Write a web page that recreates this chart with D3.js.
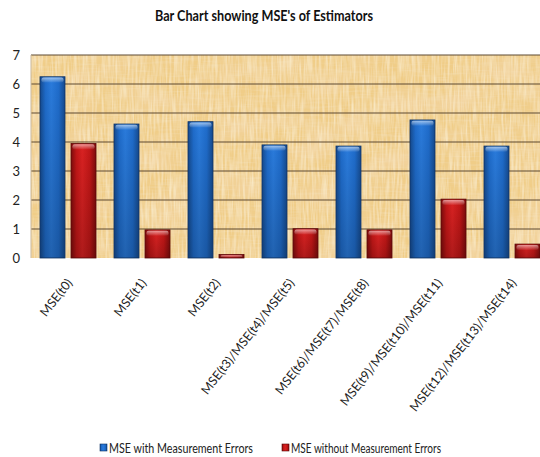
<!DOCTYPE html>
<html>
<head>
<meta charset="utf-8">
<script src="https://cdn.jsdelivr.net/npm/d3@7"></script>
<style>
  html, body { margin: 0; padding: 0; background: #fff; }
  svg { display: block; }
  text { font-family: Lato, "Open Sans", sans-serif; }
</style>
</head>
<body>
<svg id="chart" width="540" height="457"></svg>
<script>
// Estimator groups and their mean squared errors
const categories = [
  "MSE(t0)", "MSE(t1)", "MSE(t2)",
  "MSE(t3)/MSE(t4)/MSE(t5)", "MSE(t6)/MSE(t7)/MSE(t8)",
  "MSE(t9)/MSE(t10)/MSE(t11)", "MSE(t12)/MSE(t13)/MSE(t14)"
];
const seriesNames = ["MSE with Measurement Errors", "MSE without Measurement Errors"];
const withErrors    = [6.25, 4.62, 4.70, 3.90, 3.86, 4.76, 3.86];
const withoutErrors = [3.95, 0.97, 0.12, 1.01, 0.97, 2.03, 0.48];
const yTicks = [0, 1, 2, 3, 4, 5, 6, 7];
const titleText = "Bar Chart showing MSE's of Estimators";

const svg = d3.select("#chart");
const plot = { left: 31, right: 549, top: 55, bottom: 258 };

const x = d3.scaleBand().domain(categories).range([plot.left, plot.right]);
const xs = d3.scaleBand().domain(seriesNames).range([0, x.bandwidth()])
  .paddingInner(0.194).paddingOuter(0.29);
const y = d3.scaleLinear().domain([0, 7]).range([plot.bottom, plot.top]);

const defs = svg.append("defs");

// Parchment texture for the plot area: fine fibres plus soft blotches
const tex = defs.append("filter").attr("id", "parchment")
  .attr("x", 0).attr("y", 0).attr("width", 1).attr("height", 1);
tex.append("feTurbulence").attr("type", "fractalNoise")
  .attr("baseFrequency", "0.5 0.04").attr("numOctaves", 2).attr("seed", 3).attr("result", "vn");
tex.append("feColorMatrix").attr("in", "vn").attr("type", "matrix")
  .attr("values", "0 0 0 0 0.98  0 0 0 0 0.90  0 0 0 0 0.68  1.2 0 0 0 -0.45").attr("result", "vstreak");
tex.append("feTurbulence").attr("type", "fractalNoise")
  .attr("baseFrequency", "0.04 0.45").attr("numOctaves", 2).attr("seed", 7).attr("result", "hn");
tex.append("feColorMatrix").attr("in", "hn").attr("type", "matrix")
  .attr("values", "0 0 0 0 0.90  0 0 0 0 0.74  0 0 0 0 0.47  0.9 0 0 0 -0.42").attr("result", "hstreak");
tex.append("feTurbulence").attr("type", "fractalNoise")
  .attr("baseFrequency", "0.02 0.035").attr("numOctaves", 2).attr("seed", 11).attr("result", "blot");
tex.append("feColorMatrix").attr("in", "blot").attr("type", "matrix")
  .attr("values", "0 0 0 0 0.91  0 0 0 0 0.70  0 0 0 0 0.45  1.2 0 0 0 -0.52").attr("result", "blotc");
const merge = tex.append("feMerge");
merge.append("feMergeNode").attr("in", "SourceGraphic");
merge.append("feMergeNode").attr("in", "blotc");
merge.append("feMergeNode").attr("in", "hstreak");
merge.append("feMergeNode").attr("in", "vstreak");

// Bar shading: dark edges, bright core
function barGradient(id, edge, mid, light) {
  const g = defs.append("linearGradient").attr("id", id)
    .attr("x1", "0%").attr("x2", "100%").attr("y1", "0%").attr("y2", "0%");
  g.append("stop").attr("offset", "0%").attr("stop-color", edge);
  g.append("stop").attr("offset", "22%").attr("stop-color", mid);
  g.append("stop").attr("offset", "45%").attr("stop-color", light);
  g.append("stop").attr("offset", "75%").attr("stop-color", mid);
  g.append("stop").attr("offset", "100%").attr("stop-color", edge);
}
barGradient("blueBar", "#154a8e", "#1f6ccb", "#2a7bdc");
barGradient("redBar", "#7e0c0c", "#c21717", "#da2222");

const shade = defs.append("linearGradient").attr("id", "barShade")
  .attr("x1", "0%").attr("x2", "0%").attr("y1", "0%").attr("y2", "100%");
shade.append("stop").attr("offset", "0%").attr("stop-color", "#000").attr("stop-opacity", 0);
shade.append("stop").attr("offset", "100%").attr("stop-color", "#000").attr("stop-opacity", 0.2);

const capGrad = defs.append("linearGradient").attr("id", "cap")
  .attr("x1", "0%").attr("x2", "0%").attr("y1", "0%").attr("y2", "100%");
capGrad.append("stop").attr("offset", "0%").attr("stop-color", "#fff").attr("stop-opacity", 0.55);
capGrad.append("stop").attr("offset", "100%").attr("stop-color", "#fff").attr("stop-opacity", 0.05);

const clip = defs.append("clipPath").attr("id", "plotClip");
clip.append("rect").attr("x", plot.left).attr("y", plot.top - 1)
  .attr("width", plot.right - plot.left).attr("height", plot.bottom - plot.top + 2);

// Plot background
svg.append("rect")
  .attr("x", plot.left).attr("y", plot.top)
  .attr("width", plot.right - plot.left).attr("height", plot.bottom - plot.top)
  .attr("fill", "#f0cd88")
  .attr("filter", "url(#parchment)");

// Gridlines
svg.append("g").selectAll("line").data(yTicks.filter(d => d > 0)).join("line")
  .attr("x1", plot.left).attr("x2", plot.right)
  .attr("y1", d => y(d)).attr("y2", d => y(d))
  .attr("stroke", "#5e4a33").attr("stroke-width", 1.1);

svg.append("line")
  .attr("x1", plot.left).attr("x2", plot.left)
  .attr("y1", plot.top).attr("y2", plot.bottom)
  .attr("stroke", "#c9b79a").attr("stroke-width", 1);

// Y axis labels
const yAxis = d3.axisLeft(y).tickValues(yTicks).tickFormat(d3.format("d"))
  .tickSize(0).tickPadding(11);
const yg = svg.append("g").attr("transform", `translate(${plot.left},0)`).call(yAxis);
yg.select(".domain").remove();
yg.selectAll("text").attr("font-size", 13).attr("fill", "#222")
  .style("font-family", "Lato, 'Open Sans', sans-serif");

// Bars
const rows = categories.map((c, i) => ({ cat: c, values: [withErrors[i], withoutErrors[i]] }));
const groups = svg.append("g").attr("clip-path", "url(#plotClip)")
  .selectAll("g").data(rows).join("g")
  .attr("transform", d => `translate(${x(d.cat)},0)`);

const bars = groups.selectAll("g").data(d => d.values.map((v, k) => ({ v, k }))).join("g")
  .attr("transform", d => `translate(${xs(seriesNames[d.k])},0)`);

const bw = xs.bandwidth();
bars.append("rect")
  .attr("x", 0).attr("width", bw)
  .attr("y", d => y(d.v)).attr("height", d => y(0) - y(d.v))
  .attr("fill", d => d.k === 0 ? "url(#blueBar)" : "url(#redBar)")
  .attr("stroke", d => d.k === 0 ? "#0f3263" : "#5a0808").attr("stroke-width", 0.8);
bars.append("rect")
  .attr("x", 0.5).attr("width", bw - 1)
  .attr("y", d => y(d.v)).attr("height", d => y(0) - y(d.v))
  .attr("fill", "url(#barShade)");
bars.append("rect")
  .attr("x", 1.5).attr("width", bw - 3)
  .attr("y", d => y(d.v) + 0.8)
  .attr("height", d => Math.min(5, Math.max(0, y(0) - y(d.v) - 1.5)))
  .attr("rx", 2)
  .attr("fill", "url(#cap)");

// Category labels, slanted under each group
const xg = svg.append("g");
xg.selectAll("text").data(categories).join("text")
  .attr("transform", d => `translate(${x(d) + x.bandwidth() / 2 + 5},${plot.bottom + 25}) rotate(-52)`)
  .attr("text-anchor", "end")
  .attr("font-size", 12.5)
  .attr("fill", "#222")
  .text(d => d);

// Title
svg.append("text")
  .attr("x", 264).attr("y", 21)
  .attr("text-anchor", "middle")
  .attr("font-size", 16).attr("font-weight", "bold")
  .attr("fill", "#111")
  .attr("textLength", 218).attr("lengthAdjust", "spacingAndGlyphs")
  .text(titleText);

// Legend
const legendItems = [
  { name: seriesNames[0], x: 100, w: 144, fill: "url(#blueBar)", stroke: "#0f3263" },
  { name: seriesNames[1], x: 282, w: 150, fill: "url(#redBar)", stroke: "#5a0808" }
];
const lg = svg.append("g").selectAll("g").data(legendItems).join("g")
  .attr("transform", d => `translate(${d.x},448)`);
lg.append("rect").attr("x", 0).attr("y", -4).attr("width", 7).attr("height", 7)
  .attr("fill", d => d.fill).attr("stroke", d => d.stroke).attr("stroke-width", 0.6);
lg.append("text").attr("x", 9).attr("y", 4.5)
  .attr("font-size", 12.5).attr("fill", "#222")
  .attr("textLength", d => d.w).attr("lengthAdjust", "spacingAndGlyphs")
  .text(d => d.name);
</script>
</body>
</html>
